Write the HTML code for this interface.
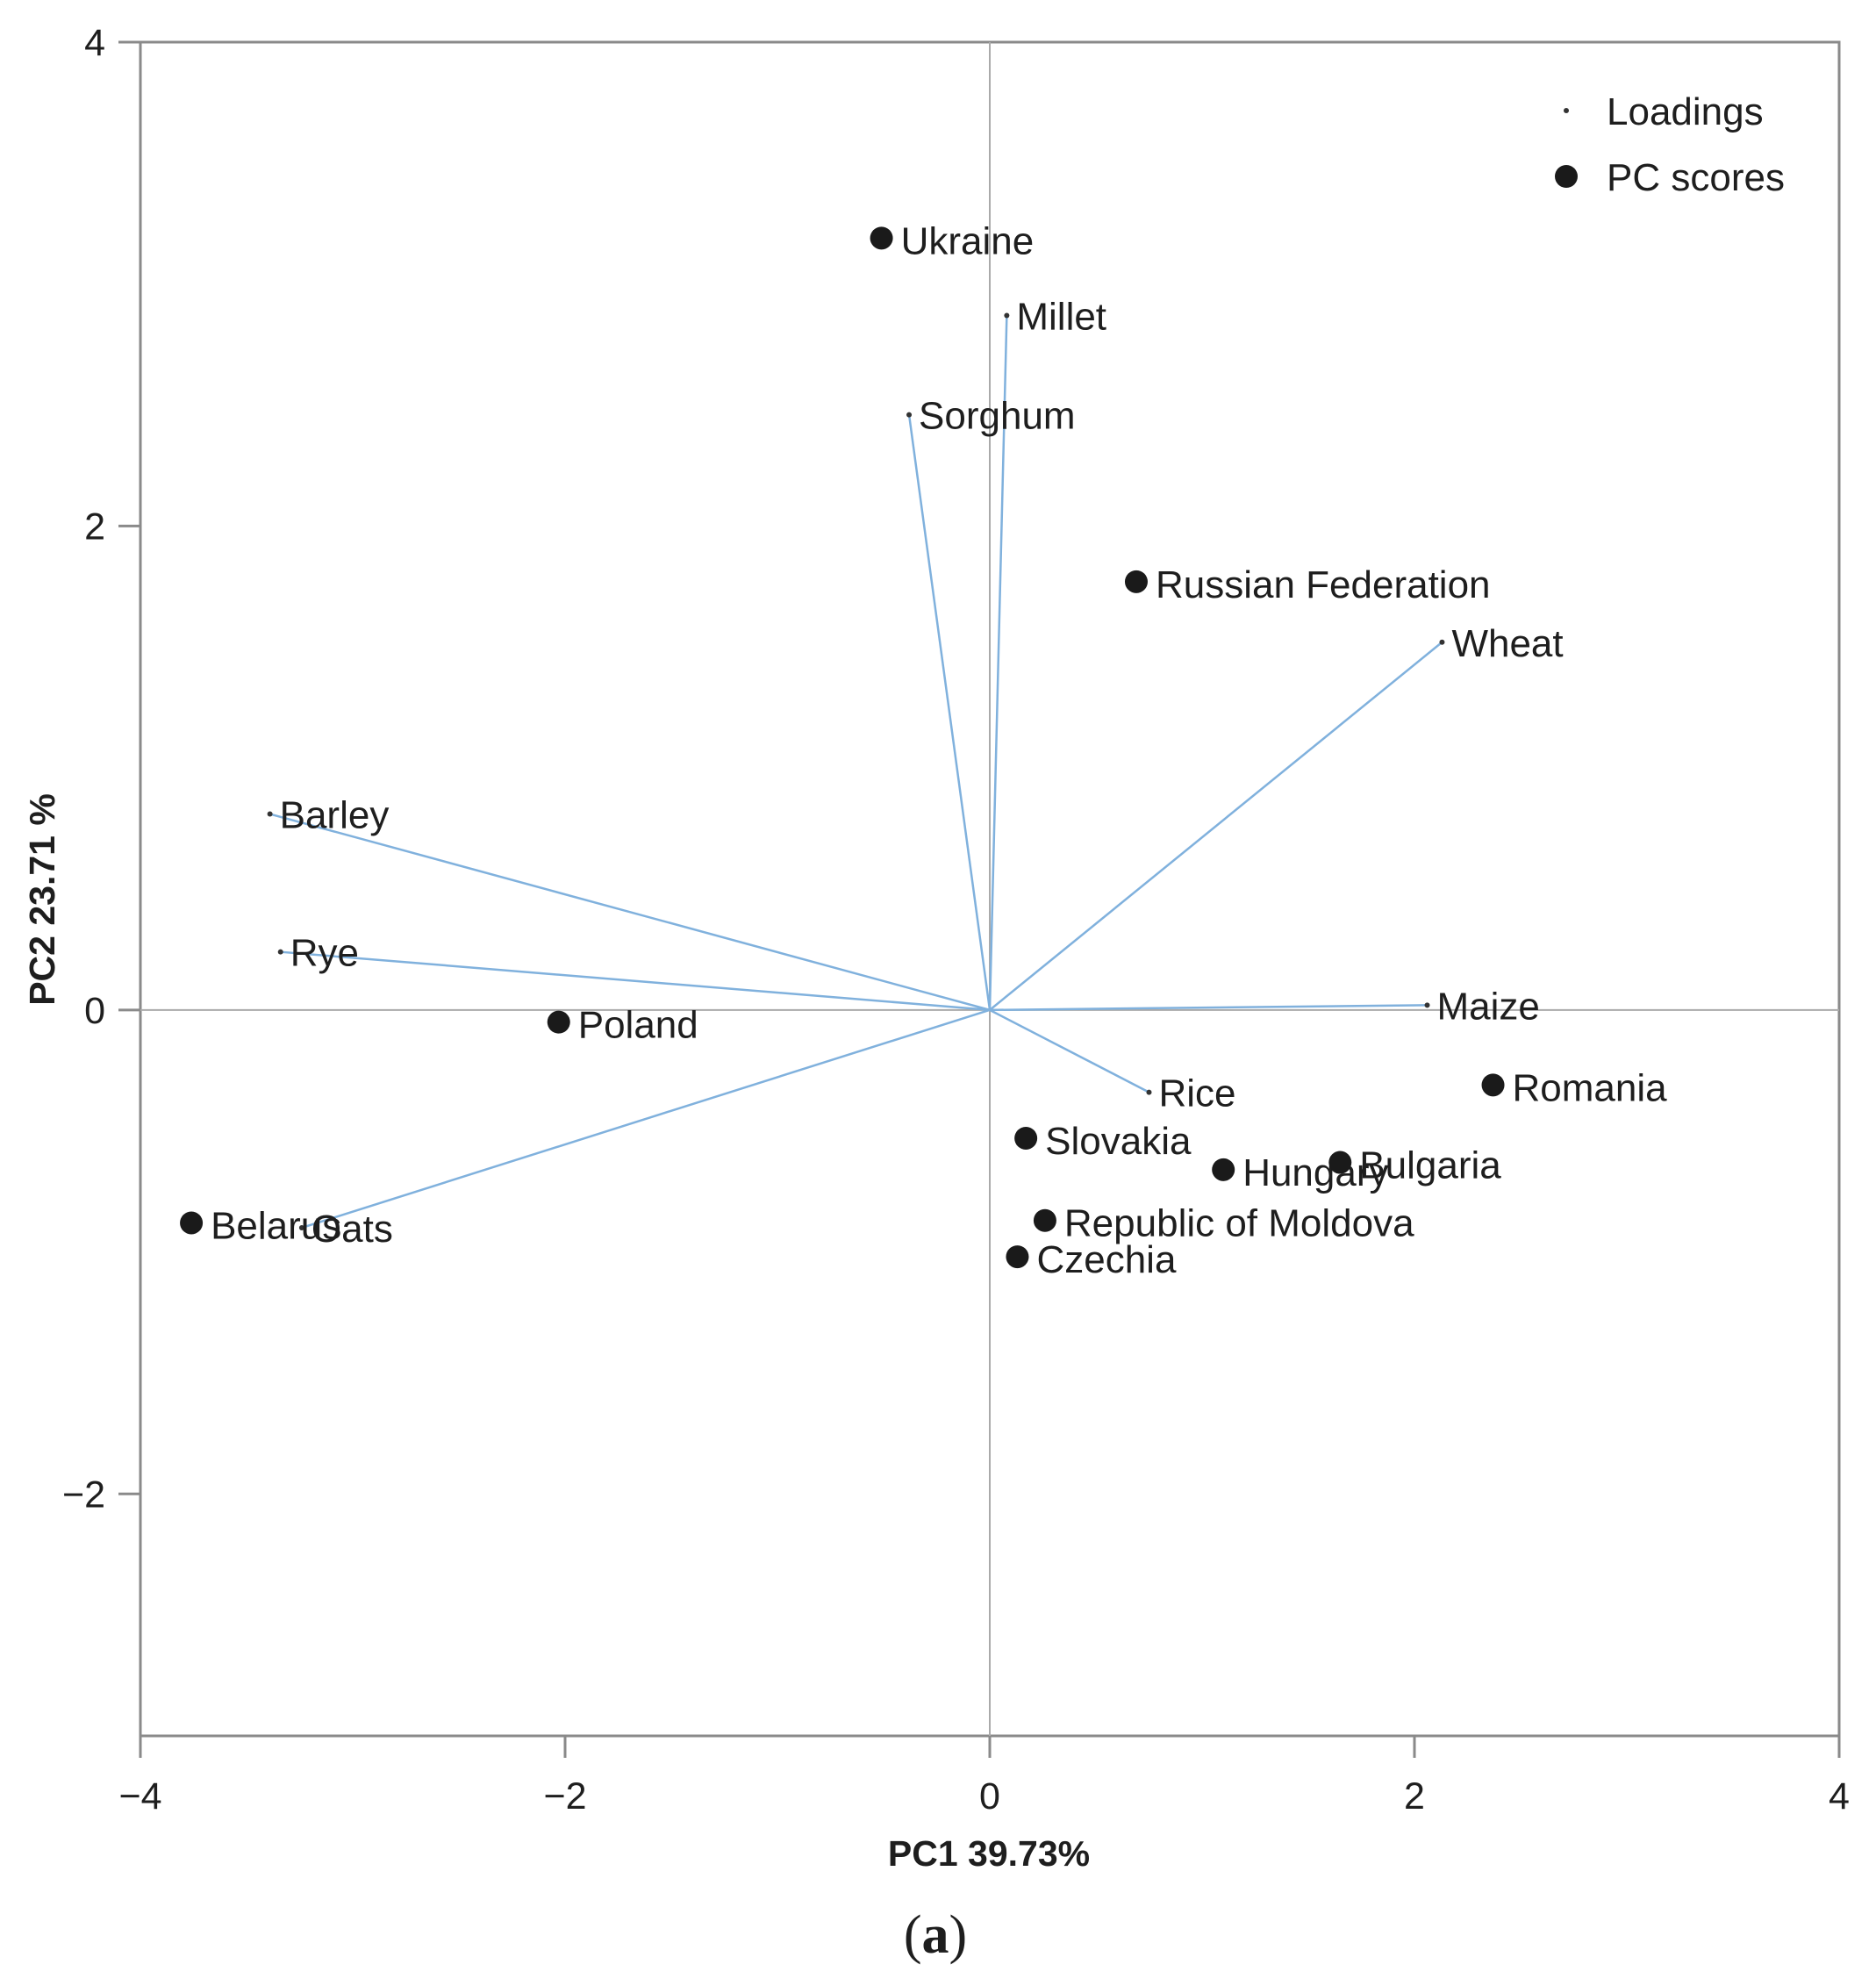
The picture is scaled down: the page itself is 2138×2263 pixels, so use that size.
<!DOCTYPE html>
<html><head><meta charset="utf-8"><style>
html,body{margin:0;padding:0;background:#fff}
svg{display:block}
text{font-family:"Liberation Sans",sans-serif;fill:#1e1e1e}
</style></head><body>
<svg id="chart" width="2138" height="2263" xmlns="http://www.w3.org/2000/svg">
<g id="axes"></g>
<g id="vectors"></g>
<g id="marks"></g>
<g>
<circle cx="1785" cy="126" r="3" fill="#333"/>
<text x="1831" y="142" font-size="44">Loadings</text>
<circle cx="1785" cy="201" r="13" fill="#1a1a1a"/>
<text x="1831" y="217" font-size="44">PC scores</text>
</g>
<text x="1127" y="2126" font-size="41" font-weight="bold" text-anchor="middle">PC1 39.73%</text>
<text transform="translate(62,1025) rotate(-90)" font-size="41" font-weight="bold" text-anchor="middle">PC2 23.71 %</text>
<text x="1066" y="2225" font-size="62" text-anchor="middle" style="font-family:'Liberation Serif',serif">(<tspan font-weight="bold">a</tspan>)</text>
</svg>
<script>
const scoreNames=["Ukraine","Russian Federation","Poland","Belarus","Romania","Slovakia","Hungary","Bulgaria","Republic of Moldova","Czechia"];
const scoreX=[-0.51,0.69,-2.03,-3.76,2.37,0.17,1.10,1.65,0.26,0.13];
const scoreY=[3.19,1.77,-0.05,-0.88,-0.31,-0.53,-0.66,-0.63,-0.87,-1.02];
const loadNames=["Millet","Sorghum","Wheat","Barley","Rye","Maize","Rice","Oats"];
const loadX=[0.08,-0.38,2.13,-3.39,-3.34,2.06,0.75,-3.24];
const loadY=[2.87,2.46,1.52,0.81,0.24,0.02,-0.34,-0.90];
const xTicks=[-4,-2,0,2,4];
const yTicks=[-2,0,2,4];
const xMin=-4,xMax=4,yMin=-3,yMax=4;
const L=160,R=2096,T=48,B=1978;
const sx=v=>L+(v-xMin)/(xMax-xMin)*(R-L);
const sy=v=>B-(v-yMin)/(yMax-yMin)*(B-T);
const NS="http://www.w3.org/2000/svg";
function mk(tag,attrs,parent,txt){const e=document.createElementNS(NS,tag);for(const k in attrs)e.setAttribute(k,attrs[k]);if(txt!==undefined)e.textContent=txt;parent.appendChild(e);return e;}
const ax=document.getElementById('axes');
let e;
e=mk('rect',{x:L,y:T,width:R-L,height:B-T,fill:'none',stroke:'#8a8a8a','stroke-width':3},ax);


e=mk('line',{x1:sx(0),x2:sx(0),y1:T,y2:B,stroke:'#aaa','stroke-width':2},ax);


e=mk('line',{x1:L,x2:R,y1:sy(0),y2:sy(0),stroke:'#aaa','stroke-width':2},ax);


xTicks.forEach(t=>{
 e=mk('line',{x1:sx(t),x2:sx(t),y1:B,y2:B+25,stroke:'#8a8a8a','stroke-width':3},ax);
 
 
 e=mk('text',{x:sx(t),y:B+83,'font-size':43,'text-anchor':'middle'},ax,t<0?'\u2212'+(-t):String(t));
 
 
});
yTicks.forEach(t=>{
 e=mk('line',{x1:L-25,x2:L,y1:sy(t),y2:sy(t),stroke:'#8a8a8a','stroke-width':3},ax);
 
 
 e=mk('text',{x:L-40,y:sy(t)+15,'font-size':43,'text-anchor':'end'},ax,t<0?'\u2212'+(-t):String(t));
 
 
});
const vg=document.getElementById('vectors');
const mg=document.getElementById('marks');
loadNames.forEach((n,i)=>{
 e=mk('line',{x1:sx(0),y1:sy(0),x2:sx(loadX[i]),y2:sy(loadY[i]),stroke:'#80b1dd','stroke-width':2.5},vg);
 
 
 e=mk('circle',{cx:sx(loadX[i]),cy:sy(loadY[i]),r:3,fill:'#333'},mg);
 
 
 e=mk('text',{x:sx(loadX[i])+11,y:sy(loadY[i])+16,'font-size':44},mg,n);
 
 
});
scoreNames.forEach((n,i)=>{
 const id=n.toLowerCase().replace(/ /g,'-');
 e=mk('circle',{cx:sx(scoreX[i]),cy:sy(scoreY[i]),r:13,fill:'#1a1a1a'},mg);
 
 
 e=mk('text',{x:sx(scoreX[i])+22,y:sy(scoreY[i])+18,'font-size':44},mg,n);
 
 
});
</script>
</body></html>
